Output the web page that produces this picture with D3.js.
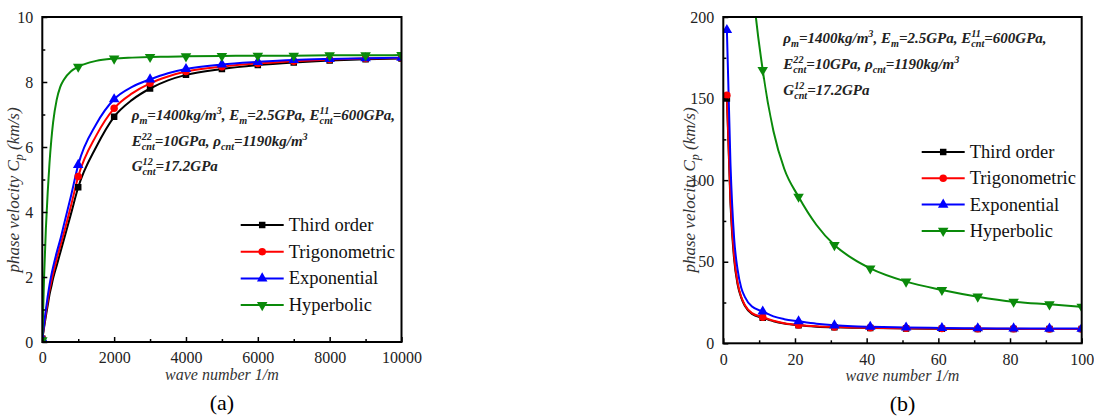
<!DOCTYPE html>
<html><head><meta charset="utf-8">
<script src="https://cdn.jsdelivr.net/npm/d3@7"></script>
<style>body{margin:0;background:#fff}svg{display:block}
text{font-family:"Liberation Serif","Times New Roman",Times,serif;}
</style>
</head><body>
<svg id="c" width="1094" height="418"></svg>
<script>
// ---------- data ----------
const seriesNames = ["Third order", "Trigonometric", "Exponential", "Hyperbolic"];
const seriesColors = ["#000000", "#ff0000", "#0000ff", "#0a8a0a"];
const seriesSymbols = ["square", "circle", "triangle", "triangleDown"];

// panel (a)
const aK = [0,50,100,150,200,250,300,400,500,600,800,1000,1500,2000,2500,3000,3500,4000,5000,6000,7000,8000,9000,10000];
const aThird = [0.1,0.45,0.8,1.12,1.45,1.7,1.95,2.35,2.75,3.15,3.95,4.76,6.0,6.93,7.45,7.8,8.05,8.22,8.4,8.52,8.6,8.66,8.7,8.72];
const aTrig  = [0.1,0.5,0.9,1.25,1.6,1.85,2.1,2.55,2.95,3.35,4.2,5.09,6.35,7.19,7.65,7.96,8.17,8.32,8.47,8.57,8.64,8.69,8.72,8.74];
const aExp   = [0.1,0.55,1.0,1.4,1.75,2.05,2.3,2.75,3.15,3.6,4.5,5.45,6.7,7.47,7.85,8.08,8.27,8.4,8.54,8.62,8.68,8.71,8.73,8.75];
const aHyp   = [0.05,2.0,3.5,4.6,5.5,6.2,6.75,7.45,7.85,8.07,8.33,8.47,8.65,8.72,8.75,8.77,8.78,8.79,8.8,8.81,8.81,8.82,8.82,8.83];
const aMarkK = [0,1000,2000,3000,4000,5000,6000,7000,8000,9000,10000];
const aXTicks = [0,2000,4000,6000,8000,10000];
const aYTicks = [0,2,4,6,8,10];

// panel (b)
const bK = [1,2,3,4,5,6,8,11,14,17,21,26,31,36,41,51,61,71,81,91,100];
const bThird = [150,86,52,36,28,23,18,15.6,13.5,12.1,11.0,10.2,9.8,9.6,9.4,9.1,8.9,8.8,8.75,8.7,8.7];
const bTrig  = [152,88,54,37,28.5,23.5,18.5,16,13.8,12.3,11.2,10.4,10,9.7,9.5,9.2,9.0,8.9,8.85,8.8,8.8];
const bExp   = [192,110,65,45,34,28.5,22.5,19.5,16.5,14.8,13.5,12,11,10.4,10.1,9.7,9.4,9.2,9.1,9.0,9.0];
const bHyp   = [1800,900,600,450,360,300,226,167.5,130,107,89.8,72.5,60.2,52,45.9,37.8,32.7,28.6,25.5,23.9,22.4];
const bMarkK = [1,11,21,31,41,51,61,71,81,91,100];
const bXTicks = [0,20,40,60,80,100];
const bYTicks = [0,50,100,150,200];

const annotLines = [
  [{t:"ρ",sub:"m"},{t:"=1400kg/m",sup:"3"},{t:", E",sub:"m"},{t:"=2.5GPa, E",sup:"11",sub:"cnt"},{t:"=600GPa,"}],
  [{t:"E",sup:"22",sub:"cnt"},{t:"=10GPa, ρ",sub:"cnt"},{t:"=1190kg/m",sup:"3"}],
  [{t:"G",sup:"12",sub:"cnt"},{t:"=17.2GPa"}]
];

// ---------- drawing ----------
const svg = d3.select("#c");
const FF = "Liberation Serif, Times New Roman, serif";

const symMap = {square:d3.symbolSquare, circle:d3.symbolCircle, triangle:d3.symbolTriangle, triangleDown:d3.symbolTriangle};
function symPath(name){
  const sizes = {square:42, circle:44, triangle:48, triangleDown:48};
  return d3.symbol().type(symMap[name]).size(sizes[name])();
}

function rich(g, x, y, segs, size){
  let cx = x;
  segs.forEach(s=>{
    const t = g.append("text").attr("x",cx).attr("y",y).attr("font-size",size)
      .attr("font-family",FF).attr("font-weight","bold").attr("font-style","italic").text(s.t);
    cx += t.node().getComputedTextLength();
    let w = 0;
    if (s.sup){
      const u = g.append("text").attr("x",cx).attr("y",y-size*0.42).attr("font-size",size*0.68)
        .attr("font-family",FF).attr("font-weight","bold").attr("font-style","italic").text(s.sup);
      w = Math.max(w,u.node().getComputedTextLength());
    }
    if (s.sub){
      const u = g.append("text").attr("x",cx).attr("y",y+size*0.28).attr("font-size",size*0.68)
        .attr("font-family",FF).attr("font-weight","bold").attr("font-style","italic").text(s.sub);
      w = Math.max(w,u.node().getComputedTextLength());
    }
    cx += w;
  });
}

function panel(cfg){
  const {left, top, right, bottom, xDom, yDom, xTicks, yTicks, xMinor, yMinor, K, series, markK, id} = cfg;
  const x = d3.scaleLinear().domain(xDom).range([left,right]);
  const y = d3.scaleLinear().domain(yDom).range([bottom,top]);
  const g = svg.append("g").attr("font-family",FF);

  g.append("clipPath").attr("id","clip"+id).append("rect")
    .attr("x",left).attr("y",top).attr("width",right-left).attr("height",bottom-top);

  const line = d3.line().curve(d3.curveMonotoneX).x((d,i)=>x(K[i])).y(d=>y(d));
  const plot = g.append("g").attr("clip-path","url(#clip"+id+")");
  series.forEach((vals,si)=>{
    plot.append("path").attr("d",line(vals)).attr("fill","none")
      .attr("stroke",seriesColors[si]).attr("stroke-width",2);
  });
  series.forEach((vals,si)=>{
    markK.forEach(k=>{
      const i = K.indexOf(k);
      const v = vals[i];
      if (v>yDom[1]) return;
      plot.append("path").attr("d",symPath(seriesSymbols[si]))
        .attr("transform",`translate(${x(k)},${y(v)})${seriesSymbols[si]==="triangleDown"?" rotate(180)":""}`)
        .attr("fill",seriesColors[si]);
    });
  });

  // axes with inward ticks
  const xAxis = d3.axisBottom(x).tickValues(xTicks).tickSizeInner(-5).tickSizeOuter(0).tickPadding(10).tickFormat(d3.format("d"));
  const xa = g.append("g").attr("transform",`translate(0,${bottom})`).call(xAxis);
  const yAxis = d3.axisLeft(y).tickValues(yTicks).tickSizeInner(-5).tickSizeOuter(0).tickPadding(9).tickFormat(d3.format("d"));
  const ya = g.append("g").attr("transform",`translate(${left},0)`).call(yAxis);
  [xa,ya].forEach(a=>{
    a.attr("font-family",FF).attr("font-size",16);
    a.select(".domain").remove();
    a.selectAll("line").attr("stroke","#000").attr("stroke-width",1.5);
    a.selectAll("text").attr("font-family",FF).attr("font-size",16).attr("fill","#222");
  });
  const xm = d3.axisBottom(x).tickValues(xMinor).tickSize(-3).tickFormat("");
  g.append("g").attr("transform",`translate(0,${bottom})`).call(xm)
    .call(a=>{a.select(".domain").remove();a.selectAll("line").attr("stroke","#000").attr("stroke-width",1.5);});
  const ym = d3.axisLeft(y).tickValues(yMinor).tickSize(-3).tickFormat("");
  g.append("g").attr("transform",`translate(${left},0)`).call(ym)
    .call(a=>{a.select(".domain").remove();a.selectAll("line").attr("stroke","#000").attr("stroke-width",1.5);});

  g.append("rect").attr("x",left).attr("y",top).attr("width",right-left).attr("height",bottom-top)
    .attr("fill","none").attr("stroke","#000").attr("stroke-width",2);

  // axis titles
  g.append("text").attr("x",(left+right)/2).attr("y",bottom+38).attr("text-anchor","middle")
    .attr("font-family",FF).attr("font-style","italic").attr("font-size",16).attr("fill","#333")
    .text("wave number 1/m");
  const yl = g.append("text").attr("transform",`translate(${cfg.ylabX},${cfg.ylabY}) rotate(-90)`)
    .attr("text-anchor","middle").attr("font-family",FF).attr("font-style","italic")
    .attr("font-size",17).attr("fill","#333");
  yl.append("tspan").text("phase velocity C");
  yl.append("tspan").attr("font-size",12).attr("dy",4).text("p");
  yl.append("tspan").attr("dy",-4).text(" (km/s)");

  g.append("text").attr("x",(left+right)/2).attr("y",bottom+68).attr("text-anchor","middle")
    .attr("font-family",FF).attr("font-size",22).attr("fill","#000").text(cfg.tag);

  // legend
  seriesNames.forEach((n,i)=>{
    const ly = cfg.legY + i*cfg.legDy;
    g.append("line").attr("x1",cfg.legX).attr("x2",cfg.legX+43).attr("y1",ly).attr("y2",ly)
      .attr("stroke",seriesColors[i]).attr("stroke-width",2);
    g.append("path").attr("d",symPath(seriesSymbols[i]))
      .attr("transform",`translate(${cfg.legX+21.5},${ly})${seriesSymbols[i]==="triangleDown"?" rotate(180)":""}`)
      .attr("fill",seriesColors[i]);
    g.append("text").attr("x",cfg.legX+48).attr("y",ly+6).attr("font-family",FF)
      .attr("font-size",18.5).attr("fill","#111").text(n);
  });

  // annotation
  const ag = g.append("g").attr("fill","#222");
  annotLines.forEach((segs,i)=>rich(ag, cfg.annX, cfg.annY[i], segs, 15));
}

panel({id:"a", left:42.3, right:401.5, top:17, bottom:342, xDom:[0,10000], yDom:[0,10],
  xTicks:aXTicks, yTicks:aYTicks, xMinor:[1000,3000,5000,7000,9000], yMinor:[1,3,5,7,9],
  K:aK, series:[aThird,aTrig,aExp,aHyp], markK:aMarkK, ylabX:19, ylabY:190, tag:"(a)",
  legX:240.7, legY:225, legDy:26.7, annX:131.7, annY:[120,146,171]});
panel({id:"b", left:723.3, right:1081.7, top:17, bottom:343.3, xDom:[0,100], yDom:[0,200],
  xTicks:bXTicks, yTicks:bYTicks, xMinor:[10,30,50,70,90], yMinor:[25,75,125,175],
  K:bK, series:[bThird,bTrig,bExp,bHyp], markK:bMarkK, ylabX:695, ylabY:190, tag:"(b)",
  legX:921.7, legY:152, legDy:26.3, annX:783.3, annY:[43,69,95]});
</script></body></html>
